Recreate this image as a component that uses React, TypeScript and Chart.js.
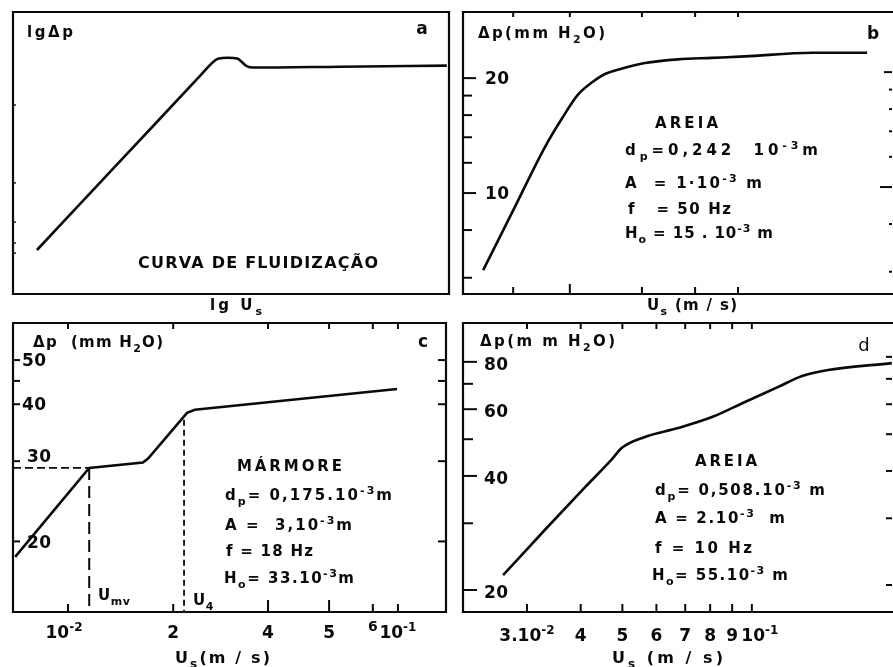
import React, { useEffect, useRef } from "react";
import { Chart, registerables } from "chart.js";

Chart.register(...registerables);

const W = 893;
const H = 667;
const INK = "#0a0a0a";
const FONT = "'DejaVu Sans', 'Liberation Sans', sans-serif";

// ---- Panel a: schematic fluidization curve, lg Δp vs lg Us (relative units)
const aUs = [5.5, 25.0, 43.0, 45.9, 47.2, 49.2, 51.4, 53.6, 55.0, 75.0, 99.5];
const aDp = [15.6, 47.8, 77.5, 82.3, 83.5, 83.8, 83.5, 80.8, 80.3, 80.6, 81.0];
const aDpTicks = [67.0, 39.4, 25.5, 18.1, 14.5];

// ---- Panel b: AREIA, dp = 0,242 mm (Us in relative position units, Δp in mm H2O, log)
const bUs = [4.7, 11.4, 19.1, 23.1, 26.8, 30.1, 33.1, 37.1, 42.4, 50.1, 58.0, 65.7, 81.4, 94.2];
const bDp = [6.28, 8.87, 13.2, 15.7, 18.1, 19.5, 20.5, 21.2, 21.9, 22.4, 22.6, 22.8, 23.3, 23.3];
const bDpTicks = [6, 8, 10, 12, 14, 16, 18, 20];
const bDpLabels = [20, 10];
const bUsTicks = [11.7, 24.9, 41.7, 54.1, 64.1];

// ---- Panel c: MÁRMORE, dp = 0,175 mm
const cUs = [0.5, 17.6, 30.0, 31.2, 40.2, 42.0, 88.7];
const cDp = [18.5, 29.0, 29.8, 30.4, 38.3, 38.9, 43.2];
const cUmv = 17.6;
const cDpMv = 29.0;
const cU4 = 39.5;
const cDpU4 = 37.0;
const cDpTicks = [20, 30, 40, 45, 50];
const cDpLabels = [50, 40, 30, 20];
const cUsTicks = [12.7, 37.0, 58.9, 73.0, 83.1, 88.9];
const cUsTickLabels = ["10^{-2}", "2", "4", "5", "6", "10^{-1}"];

// ---- Panel d: AREIA, dp = 0,508 mm (Us in m/s, log)
const dUs = [0.0264, 0.033, 0.0409, 0.0473, 0.0498, 0.0564, 0.0673, 0.0808, 0.0964, 0.1152, 0.1309, 0.1504, 0.2116];
const dDp = [21.9, 28.8, 37.3, 44.3, 47.4, 50.7, 53.5, 57.2, 62.7, 68.7, 73.4, 76.1, 79.4];
const dDpTicks = [20, 30, 40, 50, 60, 70, 80];
const dDpLabels = [80, 60, 40, 20];
const dUsTicks = [0.03, 0.04, 0.05, 0.06, 0.07, 0.08, 0.09, 0.1];
const dUsTickLabels = ["3.10^{-2}", "4", "5", "6", "7", "8", "9", "10^{-1}"];

// ---------------------------------------------------------------- helpers
type Seg = [string, number]; // 0 normal, 1 superscript, -1 subscript

function parseRich(s: string): Seg[] {
  const out: Seg[] = [];
  let buf = "";
  let i = 0;
  while (i < s.length) {
    const ch = s[i];
    if ((ch === "^" || ch === "_") && s[i + 1] === "{") {
      if (buf) out.push([buf, 0]);
      buf = "";
      const end = s.indexOf("}", i);
      out.push([s.slice(i + 2, end), ch === "^" ? 1 : -1]);
      i = end + 1;
    } else {
      buf += ch;
      i++;
    }
  }
  if (buf) out.push([buf, 0]);
  return out;
}

type TextOpts = { size?: number; align?: "left" | "center" | "right"; width?: number; spacing?: number; weight?: string };

function drawRich(ctx: CanvasRenderingContext2D, s: string, x: number, yc: number, o: TextOpts = {}) {
  const segs = parseRich(s);
  const size = o.size ?? 15;
  const weight = o.weight ?? "bold";
  const fontFor = (k: number) => `${weight} ${k === 0 ? size : Math.round(size * 0.72)}px ${FONT}`;
  ctx.save();
  ctx.fillStyle = INK;
  ctx.textBaseline = "alphabetic";
  const measure = (sp: number) => {
    (ctx as any).letterSpacing = sp + "px";
    return segs.map(([t, k]) => {
      ctx.font = fontFor(k);
      return ctx.measureText(t).width;
    });
  };
  let sp = o.spacing ?? 0;
  if (o.width) {
    const w0 = measure(0).reduce((a, b) => a + b, 0);
    const n = segs.reduce((a, [t]) => a + [...t].length, 0);
    sp = Math.max(-1.5, (o.width - w0) / Math.max(1, n - 1));
  }
  const widths = measure(sp);
  const total = widths.reduce((a, b) => a + b, 0) - sp;
  let cx = o.align === "center" ? x - total / 2 : o.align === "right" ? x - total : x;
  const base = yc + size * 0.36;
  segs.forEach(([t, k], i) => {
    ctx.font = fontFor(k);
    const dy = k === 1 ? -size * 0.42 : k === -1 ? size * 0.3 : 0;
    ctx.fillText(t, cx, base + dy);
    cx += widths[i];
  });
  ctx.restore();
}

function line(ctx: CanvasRenderingContext2D, x1: number, y1: number, x2: number, y2: number, w = 2) {
  ctx.save();
  ctx.strokeStyle = INK;
  ctx.lineWidth = w;
  ctx.lineCap = "butt";
  ctx.beginPath();
  ctx.moveTo(x1, y1);
  ctx.lineTo(x2, y2);
  ctx.stroke();
  ctx.restore();
}

function frame(ctx: CanvasRenderingContext2D, ca: any, sides: string) {
  ctx.save();
  ctx.strokeStyle = INK;
  ctx.lineWidth = 2.2;
  ctx.lineCap = "square";
  ctx.beginPath();
  if (sides.includes("t")) { ctx.moveTo(ca.left, ca.top); ctx.lineTo(ca.right, ca.top); }
  if (sides.includes("b")) { ctx.moveTo(ca.left, ca.bottom); ctx.lineTo(ca.right, ca.bottom); }
  if (sides.includes("l")) { ctx.moveTo(ca.left, ca.top); ctx.lineTo(ca.left, ca.bottom); }
  if (sides.includes("r")) { ctx.moveTo(ca.right, ca.top); ctx.lineTo(ca.right, ca.bottom); }
  ctx.stroke();
  ctx.restore();
}

const pts = (xs: number[], ys: number[]) => xs.map((x, i) => ({ x, y: ys[i] }));

const curve = (xs: number[], ys: number[], extra: any = {}) => ({
  data: pts(xs, ys),
  borderColor: INK,
  borderWidth: 2.6,
  pointRadius: 0,
  fill: false,
  clip: 8,
  cubicInterpolationMode: "monotone",
  ...extra,
});

const straight = { cubicInterpolationMode: "default", tension: 0 };

type PanelSpec = {
  area: [number, number, number, number];
  x: any;
  y: any;
  datasets: any[];
  decorate: (c: any) => void;
};

// ---------------------------------------------------------------- panels
const panelA: PanelSpec = {
  area: [13, 12, 449, 294],
  x: { type: "linear", min: 0, max: 100 },
  y: { type: "linear", min: 0, max: 100 },
  datasets: [curve(aUs, aDp)],
  decorate(c) {
    const ctx = c.ctx as CanvasRenderingContext2D;
    const ca = c.chartArea;
    const y = c.scales.y;
    frame(ctx, ca, "tlbr");
    aDpTicks.forEach((v) => {
      const py = y.getPixelForValue(v);
      line(ctx, ca.left, py, ca.left + 3, py, 1.4);
    });
    drawRich(ctx, "lgΔp", 27, 32, { size: 15, width: 46 });
    drawRich(ctx, "a", 422, 28, { size: 17, align: "center" });
    drawRich(ctx, "CURVA DE FLUIDIZAÇÃO", 138, 262, { size: 16, width: 240 });
    drawRich(ctx, "lg U_{s}", 210, 305, { size: 15, width: 52 });
  },
};

const panelB: PanelSpec = {
  area: [463, 12, 892, 294],
  x: { type: "linear", min: 0, max: 100 },
  y: { type: "logarithmic", min: 5.44, max: 29.8 },
  datasets: [curve(bUs, bDp)],
  decorate(c) {
    const ctx = c.ctx as CanvasRenderingContext2D;
    const ca = c.chartArea;
    const x = c.scales.x;
    const y = c.scales.y;
    frame(ctx, ca, "tlb");
    bDpTicks.forEach((v) => {
      const py = y.getPixelForValue(v);
      const major = bDpLabels.includes(v);
      line(ctx, ca.left, py, ca.left + (major ? 13 : 9), py, 2);
      line(ctx, ca.right, py - 6, ca.right - (v === 10 ? 12 : v === 20 ? 8 : 3), py - 6, 2);
    });
    bDpLabels.forEach((v) => {
      drawRich(ctx, String(v), ca.left + 22, y.getPixelForValue(v), { size: 17, spacing: 0.5 });
    });
    bUsTicks.forEach((v, i) => {
      const px = x.getPixelForValue(v);
      line(ctx, px, ca.bottom, px, ca.bottom - (i === 1 ? 10 : 7), 2);
      line(ctx, px, ca.top, px, ca.top + 5, 2);
    });
    drawRich(ctx, "Δp(mm H_{2}O)", 478, 33, { size: 15, width: 127 });
    drawRich(ctx, "b", 873, 33, { size: 17, align: "center" });
    drawRich(ctx, "AREIA", 655, 123, { size: 15, width: 63 });
    drawRich(ctx, "d_{p}=0,242  10^{-3}m", 625, 150, { size: 15, width: 193 });
    drawRich(ctx, "A  = 1·10^{-3} m", 625, 183, { size: 15, width: 137 });
    drawRich(ctx, "f   = 50 Hz", 628, 209, { size: 15, width: 103 });
    drawRich(ctx, "H_{o} = 15 . 10^{-3} m", 625, 233, { size: 15, width: 148 });
    drawRich(ctx, "U_{s} (m / s)", 647, 305, { size: 15, width: 90 });
  },
};

const panelC: PanelSpec = {
  area: [13, 323, 446, 612],
  x: { type: "linear", min: 0, max: 100 },
  y: { type: "logarithmic", min: 14.0, max: 60.3 },
  datasets: [
    curve(cUs, cDp, straight),
    curve([0, cUmv], [cDpMv, cDpMv], { ...straight, borderWidth: 1.8, borderDash: [8, 4] }),
    curve([cUmv, cUmv], [cDpMv, 14.0], { ...straight, borderWidth: 2, borderDash: [12, 6] }),
    curve([cU4, cU4], [cDpU4, 14.0], { ...straight, borderWidth: 1.8, borderDash: [6, 4] }),
  ],
  decorate(c) {
    const ctx = c.ctx as CanvasRenderingContext2D;
    const ca = c.chartArea;
    const x = c.scales.x;
    const y = c.scales.y;
    frame(ctx, ca, "tlbr");
    cDpTicks.forEach((v) => {
      const py = y.getPixelForValue(v);
      line(ctx, ca.left, py, ca.left + 7, py, 2);
      line(ctx, ca.right, py, ca.right - 8, py, 2);
    });
    cDpLabels.forEach((v) => {
      const left = v >= 40 ? 22 : 27;
      drawRich(ctx, String(v), left, y.getPixelForValue(v) - (v === 30 ? 5 : 0), { size: 17, spacing: 0.5 });
    });
    cUsTicks.forEach((v, i) => {
      const px = x.getPixelForValue(v);
      line(ctx, px, ca.bottom, px, ca.bottom - (i === 2 || i === 3 ? 12 : 8), 2);
      line(ctx, px, ca.top, px, ca.top + 6, 2);
      drawRich(ctx, cUsTickLabels[i], px - (i === 0 ? 4 : 0), i === 4 ? 626 : 632, { size: i === 4 ? 14 : 17, align: "center" });
    });
    drawRich(ctx, "Δp  (mm H_{2}O)", 33, 342, { size: 15, width: 130 });
    drawRich(ctx, "c", 423, 341, { size: 17, align: "center" });
    drawRich(ctx, "MÁRMORE", 237, 466, { size: 15, width: 105 });
    drawRich(ctx, "d_{p}= 0,175.10^{-3}m", 225, 495, { size: 15, width: 167 });
    drawRich(ctx, "A =  3,10^{-3}m", 225, 525, { size: 15, width: 127 });
    drawRich(ctx, "f = 18 Hz", 226, 551, { size: 15, width: 87 });
    drawRich(ctx, "H_{o}= 33.10^{-3}m", 224, 578, { size: 15, width: 130 });
    drawRich(ctx, "U_{mv}", 98, 595, { size: 15, spacing: 0.5 });
    drawRich(ctx, "U_{4}", 193, 600, { size: 15, spacing: 0.5 });
    drawRich(ctx, "U_{s}(m / s)", 175, 657, { size: 16, width: 95 });
  },
};

const panelD: PanelSpec = {
  area: [463, 323, 892, 612],
  x: { type: "logarithmic", min: 0.0213, max: 0.2118 },
  y: { type: "logarithmic", min: 17.5, max: 101.3 },
  datasets: [curve(dUs, dDp)],
  decorate(c) {
    const ctx = c.ctx as CanvasRenderingContext2D;
    const ca = c.chartArea;
    const x = c.scales.x;
    const y = c.scales.y;
    frame(ctx, ca, "tlb");
    dDpTicks.forEach((v) => {
      const py = y.getPixelForValue(v);
      const major = dDpLabels.includes(v);
      line(ctx, ca.left, py, ca.left + (major ? 14 : 10), py, 2);
      line(ctx, ca.right, py - 5, ca.right - 6, py - 5, 2);
    });
    dDpLabels.forEach((v) => {
      drawRich(ctx, String(v), 484, y.getPixelForValue(v) + 2, { size: 17, spacing: 0.5 });
    });
    dUsTicks.forEach((v, i) => {
      const px = x.getPixelForValue(v);
      line(ctx, px, ca.bottom, px, ca.bottom - 8, 2);
      line(ctx, px, ca.top, px, ca.top + 6, 2);
      const shift = i === dUsTicks.length - 1 ? 8 : 0;
      drawRich(ctx, dUsTickLabels[i], px + shift, 635, { size: 17, align: "center" });
    });
    drawRich(ctx, "Δp(m m H_{2}O)", 480, 341, { size: 15, width: 135 });
    drawRich(ctx, "d", 864, 345, { size: 18, align: "center", weight: "normal" });
    drawRich(ctx, "AREIA", 695, 461, { size: 15, width: 62 });
    drawRich(ctx, "d_{p}= 0,508.10^{-3} m", 655, 490, { size: 15, width: 170 });
    drawRich(ctx, "A = 2.10^{-3}  m", 655, 518, { size: 15, width: 130 });
    drawRich(ctx, "f = 10 Hz", 655, 548, { size: 15, width: 97 });
    drawRich(ctx, "H_{o}= 55.10^{-3} m", 652, 575, { size: 15, width: 136 });
    drawRich(ctx, "U_{s} (m / s)", 612, 657, { size: 16, width: 111 });
  },
};

const PANELS = [panelA, panelB, panelC, panelD];

function Panel({ spec }: { spec: PanelSpec }) {
  const ref = useRef<HTMLCanvasElement>(null);
  useEffect(() => {
    const [l, t, r, b] = spec.area;
    const chart = new Chart(ref.current as HTMLCanvasElement, {
      type: "line",
      data: { datasets: spec.datasets },
      options: {
        responsive: false,
        animation: false,
        events: [],
        devicePixelRatio: 1,
        layout: { padding: { left: l, top: t, right: W - r, bottom: H - b } },
        plugins: { legend: { display: false }, tooltip: { enabled: false } },
        scales: {
          x: { ...spec.x, display: false },
          y: { ...spec.y, display: false },
        },
      } as any,
      plugins: [{ id: "paperAxes", afterDraw: (c: any) => spec.decorate(c) }],
    });
    return () => chart.destroy();
  }, [spec]);
  return <canvas ref={ref} width={W} height={H} style={{ position: "absolute", left: 0, top: 0 }} />;
}

export default function App() {
  return (
    <div style={{ position: "fixed", left: 0, top: 0, width: W, height: H, background: "#fff", overflow: "hidden" }}>
      {PANELS.map((p, i) => (
        <Panel key={i} spec={p} />
      ))}
    </div>
  );
}
